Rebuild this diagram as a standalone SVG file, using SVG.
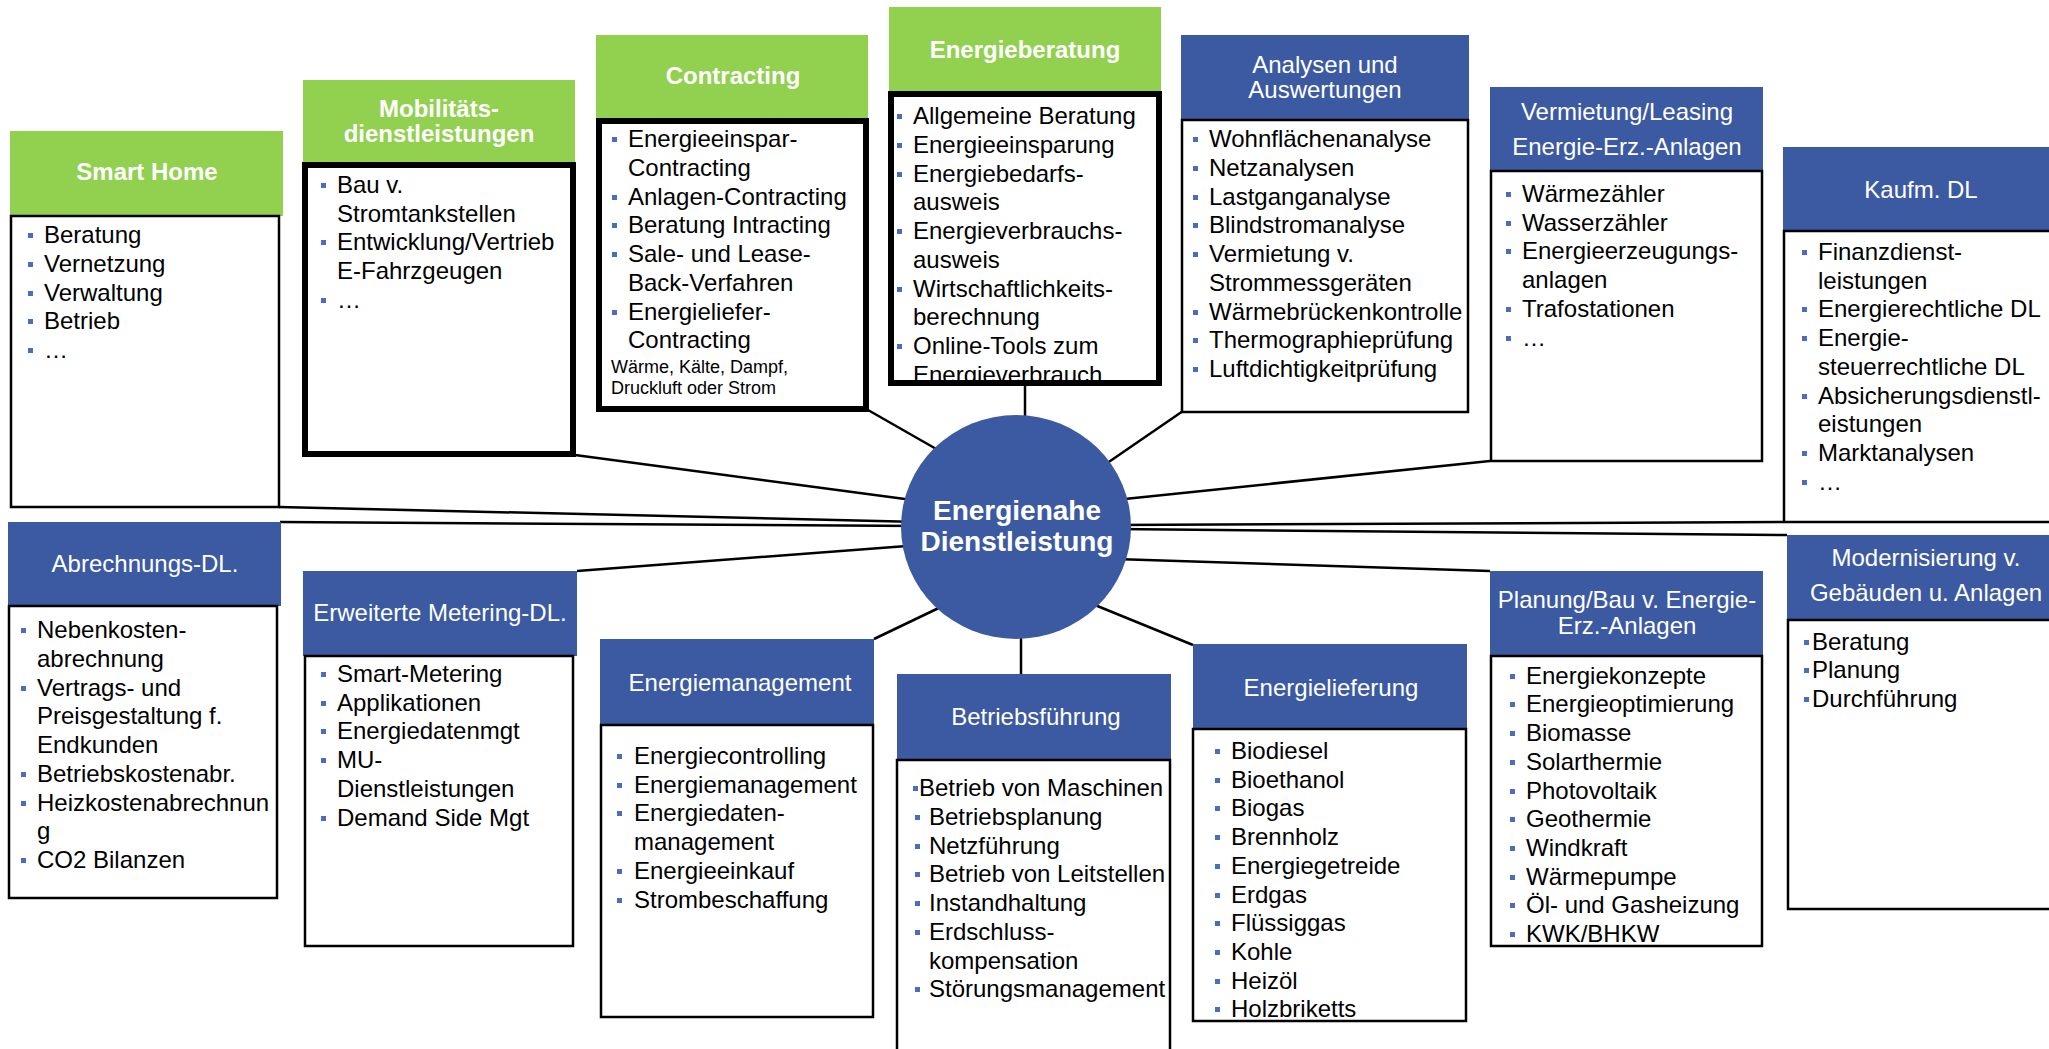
<svg xmlns="http://www.w3.org/2000/svg" xmlns:xlink="http://www.w3.org/1999/xlink" width="2049" height="1049" viewBox="0 0 2049 1049">
<style>
.hg{fill:#92D050}
.hb{fill:#3C5AA1}
.bx{fill:#fff;stroke:#000;stroke-width:2.5}
.bxk{fill:#fff;stroke:#000;stroke-width:6}
.bxo{fill:none;stroke:#000;stroke-width:6}
.ht{font-family:"Liberation Sans",Arial,sans-serif;font-size:24px;fill:#fff;text-anchor:middle}
.b{font-weight:bold}
.tx{font-family:"Liberation Sans",Arial,sans-serif;font-size:24px;fill:#000}
.sm{font-family:"Liberation Sans",Arial,sans-serif;font-size:18px;fill:#000}
.ct{font-family:"Liberation Sans",Arial,sans-serif;font-size:28px;font-weight:bold;fill:#fff;text-anchor:middle}
.cn{stroke:#000;stroke-width:2.5;fill:none}
.bu{fill:#4A6DBE}
</style>
<defs>
<rect id="bu" class="bu" width="5" height="5"/>
<clipPath id="clipEB"><rect x="891" y="94" width="268" height="287"/></clipPath>
</defs>
<rect width="2049" height="1049" fill="#fff"/>

<g id="connectors">
<line class="cn" x1="279" y1="507" x2="920" y2="522"/>
<line class="cn" x1="280" y1="522" x2="920" y2="526"/>
<line class="cn" x1="575" y1="455" x2="920" y2="501"/>
<line class="cn" x1="577" y1="571" x2="920" y2="545"/>
<line class="cn" x1="868" y1="410" x2="945" y2="454"/>
<line class="cn" x1="1025" y1="386" x2="1025" y2="425"/>
<line class="cn" x1="1183" y1="411" x2="1100" y2="468"/>
<line class="cn" x1="1490" y1="461" x2="1115" y2="500"/>
<line class="cn" x1="1783" y1="522" x2="1115" y2="525"/>
<line class="cn" x1="1787" y1="535" x2="1115" y2="529"/>
<line class="cn" x1="1490" y1="571" x2="1115" y2="559"/>
<line class="cn" x1="1193" y1="645" x2="1090" y2="603"/>
<line class="cn" x1="1021" y1="674" x2="1021" y2="630"/>
<line class="cn" x1="874" y1="639" x2="945" y2="605"/>
</g>

<g id="n-smart-home">
<rect class="hg" x="10" y="131" width="273" height="85"/>
<text class="ht b" x="147" y="180">Smart Home</text>
<rect class="bx" x="11" y="216" width="268" height="291"/>
<use href="#bu" x="28" y="233"/><use href="#bu" x="28" y="262"/><use href="#bu" x="28" y="291"/><use href="#bu" x="28" y="319"/><use href="#bu" x="28" y="348"/>
<text class="tx"><tspan x="44" y="243">Beratung</tspan><tspan x="44" y="272">Vernetzung</tspan><tspan x="44" y="301">Verwaltung</tspan><tspan x="44" y="329">Betrieb</tspan><tspan x="44" y="358">…</tspan></text>
</g>

<g id="n-mobilitaet">
<rect class="hg" x="303" y="80" width="272" height="82"/>
<text class="ht b"><tspan x="439" y="117">Mobilitäts-</tspan><tspan x="439" y="142">dienstleistungen</tspan></text>
<rect class="bxk" x="305" y="165" width="268" height="289"/>
<use href="#bu" x="321" y="183"/><use href="#bu" x="321" y="240"/><use href="#bu" x="321" y="298"/>
<text class="tx"><tspan x="337" y="193">Bau v.</tspan><tspan x="337" y="222">Stromtankstellen</tspan><tspan x="337" y="250">Entwicklung/Vertrieb</tspan><tspan x="337" y="279">E-Fahrzgeugen</tspan><tspan x="337" y="308">…</tspan></text>
</g>

<g id="n-contracting">
<rect class="hg" x="596" y="35" width="272" height="84"/>
<text class="ht b" x="733" y="84">Contracting</text>
<rect class="bxk" x="599" y="121" width="267" height="288"/>
<use href="#bu" x="612" y="137"/><use href="#bu" x="612" y="195"/><use href="#bu" x="612" y="223"/><use href="#bu" x="612" y="252"/><use href="#bu" x="612" y="310"/>
<text class="tx"><tspan x="628" y="147">Energieeinspar-</tspan><tspan x="628" y="176">Contracting</tspan><tspan x="628" y="205">Anlagen-Contracting</tspan><tspan x="628" y="233">Beratung Intracting</tspan><tspan x="628" y="262">Sale- und Lease-</tspan><tspan x="628" y="291">Back-Verfahren</tspan><tspan x="628" y="320">Energieliefer-</tspan><tspan x="628" y="348">Contracting</tspan></text>
<text class="sm"><tspan x="611" y="373">Wärme, Kälte, Dampf,</tspan><tspan x="611" y="394">Druckluft oder Strom</tspan></text>
</g>

<g id="n-energieberatung">
<rect class="hg" x="889" y="7" width="272" height="85"/>
<text class="ht b" x="1025" y="58">Energieberatung</text>
<rect fill="#fff" x="891" y="94" width="268" height="289"/>
<g clip-path="url(#clipEB)">
<use href="#bu" x="897" y="114"/><use href="#bu" x="897" y="143"/><use href="#bu" x="897" y="172"/><use href="#bu" x="897" y="229"/><use href="#bu" x="897" y="287"/><use href="#bu" x="897" y="344"/>
<text class="tx"><tspan x="913" y="124">Allgemeine Beratung</tspan><tspan x="913" y="153">Energieeinsparung</tspan><tspan x="913" y="182">Energiebedarfs-</tspan><tspan x="913" y="210">ausweis</tspan><tspan x="913" y="239">Energieverbrauchs-</tspan><tspan x="913" y="268">ausweis</tspan><tspan x="913" y="297">Wirtschaftlichkeits-</tspan><tspan x="913" y="325">berechnung</tspan><tspan x="913" y="354">Online-Tools zum</tspan><tspan x="913" y="383">Energieverbrauch</tspan></text>
</g>
<rect class="bxo" x="891" y="94" width="268" height="289"/>
</g>

<g id="n-analysen">
<rect class="hb" x="1181" y="35" width="288" height="85"/>
<text class="ht"><tspan x="1325" y="73">Analysen und</tspan><tspan x="1325" y="98">Auswertungen</tspan></text>
<rect class="bx" x="1182" y="120" width="286" height="292"/>
<use href="#bu" x="1193" y="137"/><use href="#bu" x="1193" y="166"/><use href="#bu" x="1193" y="195"/><use href="#bu" x="1193" y="223"/><use href="#bu" x="1193" y="252"/><use href="#bu" x="1193" y="310"/><use href="#bu" x="1193" y="338"/><use href="#bu" x="1193" y="367"/>
<text class="tx"><tspan x="1209" y="147">Wohnflächenanalyse</tspan><tspan x="1209" y="176">Netzanalysen</tspan><tspan x="1209" y="205">Lastganganalyse</tspan><tspan x="1209" y="233">Blindstromanalyse</tspan><tspan x="1209" y="262">Vermietung v.</tspan><tspan x="1209" y="291">Strommessgeräten</tspan><tspan x="1209" y="320">Wärmebrückenkontrolle</tspan><tspan x="1209" y="348">Thermographieprüfung</tspan><tspan x="1209" y="377">Luftdichtigkeitprüfung</tspan></text>
</g>

<g id="n-vermietung">
<rect class="hb" x="1490" y="87" width="273" height="84"/>
<text class="ht"><tspan x="1627" y="120">Vermietung/Leasing</tspan><tspan x="1627" y="155">Energie-Erz.-Anlagen</tspan></text>
<rect class="bx" x="1491" y="171" width="271" height="290"/>
<use href="#bu" x="1506" y="192"/><use href="#bu" x="1506" y="221"/><use href="#bu" x="1506" y="249"/><use href="#bu" x="1506" y="307"/><use href="#bu" x="1506" y="336"/>
<text class="tx"><tspan x="1522" y="202">Wärmezähler</tspan><tspan x="1522" y="231">Wasserzähler</tspan><tspan x="1522" y="259">Energieerzeugungs-</tspan><tspan x="1522" y="288">anlagen</tspan><tspan x="1522" y="317">Trafostationen</tspan><tspan x="1522" y="346">…</tspan></text>
</g>

<g id="n-kaufm">
<rect class="hb" x="1783" y="147" width="274" height="84"/>
<text class="ht" x="1921" y="198">Kaufm. DL</text>
<rect class="bx" x="1784" y="231" width="272" height="291"/>
<use href="#bu" x="1802" y="250"/><use href="#bu" x="1802" y="307"/><use href="#bu" x="1802" y="336"/><use href="#bu" x="1802" y="394"/><use href="#bu" x="1802" y="451"/><use href="#bu" x="1802" y="480"/>
<text class="tx"><tspan x="1818" y="260">Finanzdienst-</tspan><tspan x="1818" y="289">leistungen</tspan><tspan x="1818" y="317">Energierechtliche DL</tspan><tspan x="1818" y="346">Energie-</tspan><tspan x="1818" y="375">steuerrechtliche DL</tspan><tspan x="1818" y="404">Absicherungsdienstl-</tspan><tspan x="1818" y="432">eistungen</tspan><tspan x="1818" y="461">Marktanalysen</tspan><tspan x="1818" y="490">…</tspan></text>
</g>

<g id="n-abrechnung">
<rect class="hb" x="8" y="522" width="273" height="84"/>
<text class="ht" x="145" y="572">Abrechnungs-DL.</text>
<rect class="bx" x="9" y="606" width="268" height="292"/>
<use href="#bu" x="21" y="628"/><use href="#bu" x="21" y="686"/><use href="#bu" x="21" y="772"/><use href="#bu" x="21" y="801"/><use href="#bu" x="21" y="858"/>
<text class="tx"><tspan x="37" y="638">Nebenkosten-</tspan><tspan x="37" y="667">abrechnung</tspan><tspan x="37" y="696">Vertrags- und</tspan><tspan x="37" y="724">Preisgestaltung f.</tspan><tspan x="37" y="753">Endkunden</tspan><tspan x="37" y="782">Betriebskostenabr.</tspan><tspan x="37" y="811">Heizkostenabrechnun</tspan><tspan x="37" y="839">g</tspan><tspan x="37" y="868">CO2 Bilanzen</tspan></text>
</g>

<g id="n-metering">
<rect class="hb" x="303" y="571" width="274" height="85"/>
<text class="ht" x="440" y="621">Erweiterte Metering-DL.</text>
<rect class="bx" x="305" y="656" width="268" height="290"/>
<use href="#bu" x="321" y="672"/><use href="#bu" x="321" y="701"/><use href="#bu" x="321" y="729"/><use href="#bu" x="321" y="758"/><use href="#bu" x="321" y="816"/>
<text class="tx"><tspan x="337" y="682">Smart-Metering</tspan><tspan x="337" y="711">Applikationen</tspan><tspan x="337" y="739">Energiedatenmgt</tspan><tspan x="337" y="768">MU-</tspan><tspan x="337" y="797">Dienstleistungen</tspan><tspan x="337" y="826">Demand Side Mgt</tspan></text>
</g>

<g id="n-energiemanagement">
<rect class="hb" x="600" y="639" width="274" height="86"/>
<text class="ht" x="740" y="691">Energiemanagement</text>
<rect class="bx" x="601" y="725" width="272" height="292"/>
<use href="#bu" x="617" y="754"/><use href="#bu" x="617" y="783"/><use href="#bu" x="617" y="811"/><use href="#bu" x="617" y="869"/><use href="#bu" x="617" y="898"/>
<text class="tx"><tspan x="634" y="764">Energiecontrolling</tspan><tspan x="634" y="793">Energiemanagement</tspan><tspan x="634" y="821">Energiedaten-</tspan><tspan x="634" y="850">management</tspan><tspan x="634" y="879">Energieeinkauf</tspan><tspan x="634" y="908">Strombeschaffung</tspan></text>
</g>

<g id="n-betriebsfuehrung">
<rect class="hb" x="897" y="674" width="274" height="86"/>
<text class="ht" x="1036" y="725">Betriebsführung</text>
<rect class="bx" x="897" y="760" width="273" height="300"/>
<use href="#bu" x="913" y="786"/><use href="#bu" x="915" y="815"/><use href="#bu" x="915" y="844"/><use href="#bu" x="915" y="872"/><use href="#bu" x="915" y="901"/><use href="#bu" x="915" y="930"/><use href="#bu" x="915" y="987"/>
<text class="tx"><tspan x="919" y="796">Betrieb von Maschinen</tspan><tspan x="929" y="825">Betriebsplanung</tspan><tspan x="929" y="854">Netzführung</tspan><tspan x="929" y="882">Betrieb von Leitstellen</tspan><tspan x="929" y="911">Instandhaltung</tspan><tspan x="929" y="940">Erdschluss-</tspan><tspan x="929" y="969">kompensation</tspan><tspan x="929" y="997">Störungsmanagement</tspan></text>
</g>

<g id="n-energielieferung">
<rect class="hb" x="1193" y="644" width="274" height="85"/>
<text class="ht" x="1331" y="696">Energielieferung</text>
<rect class="bx" x="1193" y="729" width="273" height="292"/>
<use href="#bu" x="1215" y="749"/><use href="#bu" x="1215" y="778"/><use href="#bu" x="1215" y="806"/><use href="#bu" x="1215" y="835"/><use href="#bu" x="1215" y="864"/><use href="#bu" x="1215" y="893"/><use href="#bu" x="1215" y="921"/><use href="#bu" x="1215" y="950"/><use href="#bu" x="1215" y="979"/><use href="#bu" x="1215" y="1007"/>
<text class="tx"><tspan x="1231" y="759">Biodiesel</tspan><tspan x="1231" y="788">Bioethanol</tspan><tspan x="1231" y="816">Biogas</tspan><tspan x="1231" y="845">Brennholz</tspan><tspan x="1231" y="874">Energiegetreide</tspan><tspan x="1231" y="903">Erdgas</tspan><tspan x="1231" y="931">Flüssiggas</tspan><tspan x="1231" y="960">Kohle</tspan><tspan x="1231" y="989">Heizöl</tspan><tspan x="1231" y="1017">Holzbriketts</tspan></text>
</g>

<g id="n-planung">
<rect class="hb" x="1490" y="571" width="273" height="85"/>
<text class="ht"><tspan x="1627" y="608">Planung/Bau v. Energie-</tspan><tspan x="1627" y="634">Erz.-Anlagen</tspan></text>
<rect class="bx" x="1491" y="656" width="271" height="290"/>
<use href="#bu" x="1510" y="674"/><use href="#bu" x="1510" y="702"/><use href="#bu" x="1510" y="731"/><use href="#bu" x="1510" y="760"/><use href="#bu" x="1510" y="789"/><use href="#bu" x="1510" y="817"/><use href="#bu" x="1510" y="846"/><use href="#bu" x="1510" y="875"/><use href="#bu" x="1510" y="903"/><use href="#bu" x="1510" y="932"/>
<text class="tx"><tspan x="1526" y="684">Energiekonzepte</tspan><tspan x="1526" y="712">Energieoptimierung</tspan><tspan x="1526" y="741">Biomasse</tspan><tspan x="1526" y="770">Solarthermie</tspan><tspan x="1526" y="799">Photovoltaik</tspan><tspan x="1526" y="827">Geothermie</tspan><tspan x="1526" y="856">Windkraft</tspan><tspan x="1526" y="885">Wärmepumpe</tspan><tspan x="1526" y="913">Öl- und Gasheizung</tspan><tspan x="1526" y="942">KWK/BHKW</tspan></text>
</g>

<g id="n-modernisierung">
<rect class="hb" x="1787" y="535" width="274" height="85"/>
<text class="ht"><tspan x="1926" y="566">Modernisierung v.</tspan><tspan x="1926" y="601">Gebäuden u. Anlagen</tspan></text>
<rect class="bx" x="1788" y="620" width="272" height="289"/>
<use href="#bu" x="1804" y="640"/><use href="#bu" x="1804" y="668"/><use href="#bu" x="1804" y="697"/>
<text class="tx"><tspan x="1812" y="650">Beratung</tspan><tspan x="1812" y="678">Planung</tspan><tspan x="1812" y="707">Durchführung</tspan></text>
</g>

<g id="n-center">
<ellipse cx="1016" cy="527" rx="115" ry="112" fill="#3C5AA1"/>
<text class="ct"><tspan x="1017" y="520">Energienahe</tspan><tspan x="1017" y="551">Dienstleistung</tspan></text>
</g>
</svg>
